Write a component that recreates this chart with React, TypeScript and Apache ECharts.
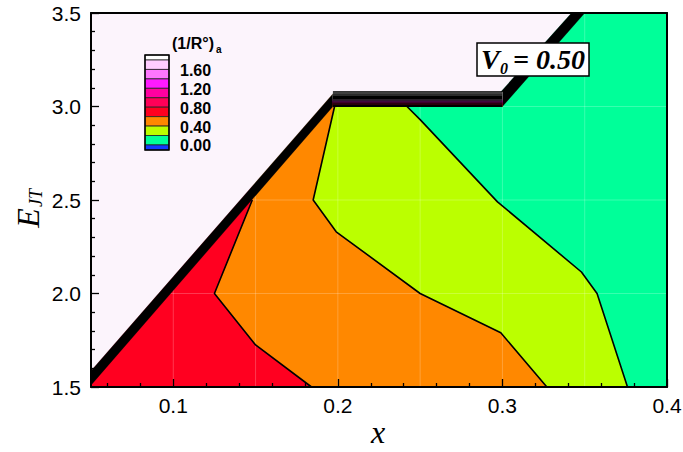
import { useEffect, useRef } from "react";
import * as echarts from "echarts";

type Pt = [number, number];

// Axis ranges and tick values
const xRange: Pt = [0.05, 0.4];
const yRange: Pt = [1.5, 3.5];
const xMajorTicks = [0.1, 0.2, 0.3, 0.4];
const xMinorTicks = [0.06, 0.08, 0.12, 0.14, 0.16, 0.18, 0.22, 0.24, 0.26, 0.28, 0.32, 0.34, 0.36, 0.38];

// Contour levels of (1/R°)a and the fill colour of each band:
// below 0.0, 0.0–0.2, 0.2–0.4, ..., 1.6–1.8, above 1.8
const levels = [0.0, 0.2, 0.4, 0.6, 0.8, 1.0, 1.2, 1.4, 1.6, 1.8];
const bandColors = [
  "#1438ff", "#00ff99", "#bbff00", "#ff8800", "#ff0020",
  "#ff0058", "#ff00a0", "#ff1aff", "#ff77ff", "#ffccff", "#ffffff",
];
const legendLabels = [1.6, 1.2, 0.8, 0.4, 0.0];
const outsideColor = "#fcf4fc";

// Contour lines (x, E_JT)
const contour06: Pt[] = [[0.184, 1.5], [0.15, 1.725], [0.125, 2.0], [0.148, 2.5]];
const contour04: Pt[] = [[0.327, 1.5], [0.299, 1.79], [0.25, 2.0], [0.199, 2.33], [0.185, 2.5], [0.198, 3.0]];
const contour02: Pt[] = [[0.376, 1.5], [0.3575, 2.0], [0.348, 2.115], [0.297, 2.49], [0.25, 2.93], [0.242, 3.0]];

// Edge of the computed domain and the edge of the steep wall beyond it
const wallInner: Pt[] = [[0.05, 1.51], [0.197, 3.0], [0.3, 3.0], [0.35, 3.5]];
const wallOuter: Pt[] = [[0.05, 1.586], [0.198, 3.078], [0.299, 3.078], [0.342, 3.5]];

// Closely packed contour levels along the flat top of the wall
const ridgeLevels = [0.4, 0.6, 0.8, 1.0, 1.2, 1.4, 1.6, 1.8, 2.0, 2.2, 2.4, 2.6, 2.8, 3.0];
const ridgeY = [3.0, 3.006, 3.012, 3.018, 3.024, 3.03, 3.036, 3.042, 3.048, 3.054, 3.06, 3.066, 3.072, 3.078];

// Mesh lines of the computational grid
const meshX = [0.1, 0.15, 0.2, 0.25, 0.3, 0.35];
const meshY = [2.0, 2.5, 3.0];

const colorFor = (v: number) => bandColors[levels.filter((l) => l <= v).length];

// region to the left of a contour line, closed along the left/top of the plot
const leftOf = (line: Pt[]): Pt[] => [
  [xRange[0], yRange[0]],
  ...line,
  [line[line.length - 1][0], yRange[1]],
  [xRange[0], yRange[1]],
];

type Shape = { pts: Pt[]; fill: string };

const fills: Shape[] = [
  {
    pts: [[xRange[0], yRange[0]], [xRange[1], yRange[0]], [xRange[1], yRange[1]], [xRange[0], yRange[1]]],
    fill: colorFor(0.1),
  },
  { pts: leftOf(contour02), fill: colorFor(0.3) },
  { pts: leftOf(contour04), fill: colorFor(0.5) },
  { pts: leftOf(contour06), fill: colorFor(0.7) },
];

const wallShapes: Shape[] = [
  { pts: [...wallOuter, [xRange[0], yRange[1]]], fill: outsideColor },
  { pts: [...wallOuter, ...[...wallInner].reverse()], fill: "#000000" },
];

const ridgeLeft = wallInner[1][0];
const ridgeRight = wallInner[2][0];
const ridgeStrips: Shape[] = ridgeY.slice(0, -1).map((y, i) => ({
  pts: [[ridgeLeft, y], [ridgeRight, y], [ridgeRight, ridgeY[i + 1]], [ridgeLeft, ridgeY[i + 1]]],
  fill: colorFor(ridgeLevels[i] + 0.1),
}));

type Seg = { a: Pt; b: Pt; stroke: string; width: number };
const meshStroke = "rgba(255,255,255,0.22)";
const meshSegs: Seg[] = [
  ...meshX.map((x) => ({ a: [x, yRange[0]] as Pt, b: [x, yRange[1]] as Pt, stroke: meshStroke, width: 1 })),
  ...meshY.map((y) => ({ a: [xRange[0], y] as Pt, b: [xRange[1], y] as Pt, stroke: meshStroke, width: 1 })),
];
const ridgeSegs: Seg[] = ridgeY.map((y) => ({
  a: [ridgeLeft, y] as Pt,
  b: [ridgeRight, y] as Pt,
  stroke: "#000",
  width: 1.1,
}));

const polygonSeries = (shapes: Shape[], z: number) => ({
  type: "custom",
  coordinateSystem: "cartesian2d",
  xAxisIndex: 0,
  yAxisIndex: 0,
  z,
  silent: true,
  data: shapes.map((s) => s.pts[0]),
  renderItem: (params: any, api: any) => {
    const s = shapes[params.dataIndex];
    return {
      type: "polygon",
      shape: { points: s.pts.map((p) => api.coord(p)) },
      style: { fill: s.fill, stroke: s.fill, lineWidth: 0.3 },
    };
  },
});

const segmentSeries = (segs: Seg[], z: number) => ({
  type: "custom",
  coordinateSystem: "cartesian2d",
  xAxisIndex: 0,
  yAxisIndex: 0,
  z,
  silent: true,
  data: segs.map((s) => s.a),
  renderItem: (params: any, api: any) => {
    const s = segs[params.dataIndex];
    const p1 = api.coord(s.a);
    const p2 = api.coord(s.b);
    return {
      type: "line",
      shape: { x1: p1[0], y1: p1[1], x2: p2[0], y2: p2[1] },
      style: { stroke: s.stroke, lineWidth: s.width },
    };
  },
});

const contourSeries = (line: Pt[]) => ({
  type: "line",
  data: line,
  xAxisIndex: 0,
  yAxisIndex: 0,
  symbol: "none",
  showSymbol: false,
  silent: true,
  z: 6,
  lineStyle: { color: "#000", width: 1.6 },
});

// legend geometry (pixels)
const LEG_X = 145;
const LEG_W = 24;
const LEG_TOP = 55;
const LEG_HALF = 5;
const LEG_STEP = 9.44;

const txt = (align: string) => ({
  align,
  verticalAlign: "middle",
  textAlign: align,
  textVerticalAlign: "middle",
});

function buildGraphic() {
  const els: any[] = [];
  const n = bandColors.length;
  let y = LEG_TOP;
  for (let i = n - 1; i >= 0; i--) {
    const h = i === n - 1 || i === 0 ? LEG_HALF : LEG_STEP;
    els.push({
      type: "rect",
      shape: { x: LEG_X, y, width: LEG_W, height: h },
      style: { fill: bandColors[i], stroke: "#222", lineWidth: 0.8 },
      z: 100,
    });
    y += h;
  }
  els.push({
    type: "rect",
    shape: { x: LEG_X, y: LEG_TOP, width: LEG_W, height: y - LEG_TOP },
    style: { fill: "none", stroke: "#000", lineWidth: 1.5 },
    z: 101,
  });
  const zeroY = y - LEG_HALF;
  const sansB = { fill: "#000", fontFamily: "Liberation Sans", fontWeight: "bold" };
  legendLabels.forEach((v) => {
    els.push({
      type: "text",
      x: 180,
      y: zeroY - (v / 0.2) * LEG_STEP + 1,
      style: { ...sansB, ...txt("left"), text: v.toFixed(2), fontSize: 16 },
      z: 101,
    });
  });
  // legend title (1/R°)a
  els.push({
    type: "text", x: 172, y: 43, z: 101,
    style: { ...sansB, ...txt("left"), text: "(1/R°)", fontSize: 16 },
  });
  els.push({
    type: "text", x: 216, y: 49, z: 101,
    style: { ...sansB, ...txt("left"), text: "a", fontSize: 10 },
  });

  // V0 = 0.50 box
  const serifBI = { fontFamily: "Liberation Serif", fontStyle: "italic", fontWeight: "bold", fill: "#000" };
  els.push({
    type: "rect",
    shape: { x: 477, y: 43, width: 112, height: 33 },
    style: { fill: "#fff", stroke: "#000", lineWidth: 1.5 },
    z: 100,
  });
  els.push({
    type: "text", x: 481, y: 59, z: 101,
    style: { ...serifBI, ...txt("left"), text: "V", fontSize: 28 },
  });
  els.push({
    type: "text", x: 500, y: 68, z: 101,
    style: { ...serifBI, ...txt("left"), text: "0", fontSize: 16 },
  });
  els.push({
    type: "text", x: 513, y: 59, z: 101,
    style: { ...serifBI, ...txt("left"), text: "= 0.50", fontSize: 28 },
  });

  // axis titles
  const serifI = { fontFamily: "Liberation Serif", fontStyle: "italic", fill: "#000" };
  els.push({
    type: "text", x: 378, y: 432, z: 101,
    style: { ...serifI, ...txt("center"), text: "x", fontSize: 32 },
  });
  els.push({
    type: "group",
    x: 28,
    y: 218,
    rotation: Math.PI / 2,
    z: 101,
    children: [
      { type: "text", x: 0, y: 0, style: { ...serifI, ...txt("center"), text: "E", fontSize: 32 } },
      { type: "text", x: 11, y: 8, style: { ...serifI, ...txt("left"), text: "JT", fontSize: 18 } },
    ],
  });
  return els;
}

const axisLineStyle = { color: "#000", width: 2 };
const tickLineStyle = { color: "#000", width: 1.3 };
const labelStyle = { color: "#000", fontSize: 21, fontFamily: "Liberation Sans" };

export default function App() {
  const ref = useRef<HTMLDivElement>(null);

  useEffect(() => {
    if (!ref.current) return;
    const chart = echarts.init(ref.current, undefined, { renderer: "svg" });
    chart.setOption({
      animation: false,
      backgroundColor: "#ffffff",
      grid: { left: 91, right: 16, top: 13, bottom: 65, containLabel: false, outerBoundsMode: "none" },
      xAxis: [
        {
          type: "value",
          min: xRange[0],
          max: xRange[1],
          position: "bottom",
          z: 10,
          axisLine: { show: true, onZero: false, lineStyle: axisLineStyle },
          axisTick: { show: true, inside: true, length: 8, customValues: xMajorTicks, lineStyle: tickLineStyle },
          axisLabel: { ...labelStyle, margin: 8, customValues: xMajorTicks, formatter: (v: number) => v.toFixed(1) },
          splitLine: { show: false },
        },
        {
          type: "value",
          min: xRange[0],
          max: xRange[1],
          position: "bottom",
          offset: 0,
          z: 10,
          axisLine: { show: false },
          axisTick: { show: true, inside: true, length: 4, customValues: xMinorTicks, lineStyle: tickLineStyle },
          axisLabel: { show: false },
          splitLine: { show: false },
        },
        {
          type: "value",
          min: xRange[0],
          max: xRange[1],
          position: "top",
          z: 10,
          axisLine: { show: true, onZero: false, lineStyle: axisLineStyle },
          axisTick: { show: false },
          axisLabel: { show: false },
          splitLine: { show: false },
        },
      ],
      yAxis: [
        {
          type: "value",
          min: yRange[0],
          max: yRange[1],
          interval: 0.5,
          position: "left",
          z: 10,
          axisLine: { show: true, onZero: false, lineStyle: axisLineStyle },
          axisTick: { show: true, inside: true, length: 8, lineStyle: tickLineStyle },
          minorTick: { show: true, splitNumber: 5, length: 4, lineStyle: tickLineStyle },
          axisLabel: { ...labelStyle, margin: 10, formatter: (v: number) => v.toFixed(1) },
          splitLine: { show: false },
          minorSplitLine: { show: false },
        },
        {
          type: "value",
          min: yRange[0],
          max: yRange[1],
          position: "right",
          z: 10,
          axisLine: { show: true, onZero: false, lineStyle: axisLineStyle },
          axisTick: { show: false },
          axisLabel: { show: false },
          splitLine: { show: false },
        },
      ],
      series: [
        polygonSeries(fills, 1),
        segmentSeries(meshSegs, 2),
        polygonSeries(wallShapes, 3),
        polygonSeries(ridgeStrips, 4),
        segmentSeries(ridgeSegs, 5),
        contourSeries(contour06),
        contourSeries(contour04),
        contourSeries(contour02),
      ],
      graphic: buildGraphic(),
    });
    return () => chart.dispose();
  }, []);

  return (
    <div
      ref={ref}
      style={{ position: "fixed", left: 0, top: 0, width: 683, height: 452, background: "#fff" }}
    />
  );
}
